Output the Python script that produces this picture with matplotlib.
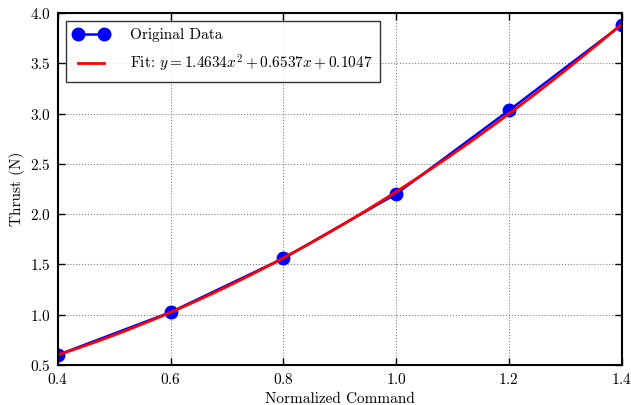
import numpy as np
import matplotlib
matplotlib.use('Agg')
import matplotlib.pyplot as plt

# measured thrust per normalized command
command = [0.4, 0.6, 0.8, 1.0, 1.2, 1.4]
thrust = [0.60, 1.025, 1.56, 2.20, 3.03, 3.88]

# quadratic fit coefficients (from the legend)
fit_coeffs = [1.4634, 0.6537, 0.1047]

plt.rcParams['font.family'] = 'serif'
plt.rcParams['font.serif'] = ['cmr10']
plt.rcParams['mathtext.fontset'] = 'cm'
plt.rcParams['axes.formatter.use_mathtext'] = True
plt.rcParams['axes.unicode_minus'] = False

fig = plt.figure(figsize=(6.31, 4.05), dpi=100)
ax = fig.add_axes([0.092, 0.099, 0.893, 0.869])

ax.plot(command, thrust, 'o-', color='blue', markersize=9, linewidth=1.8,
        markeredgecolor='blue', label='Original Data')

x_fit = np.linspace(command[0], command[-1], 200)
y_fit = np.polyval(fit_coeffs, x_fit)
ax.plot(x_fit, y_fit, '-', color='red', linewidth=2,
        label=r'Fit: $y = 1.4634x^2 + 0.6537x + 0.1047$')

ax.set_xlim(0.4, 1.4)
ax.set_ylim(0.5, 4.0)
ax.set_xticks(np.arange(0.4, 1.41, 0.2))
ax.set_yticks(np.arange(0.5, 4.01, 0.5))
ax.set_xlabel('Normalized Command', fontsize=11)
ax.set_ylabel('Thrust (N)', fontsize=11)
ax.tick_params(direction='in', top=True, right=True, labelsize=11,
               length=5, width=1, pad=5)
for s in ax.spines.values():
    s.set_linewidth(1.5)
ax.grid(True, linestyle=':', color='gray', linewidth=0.8)

leg = ax.legend(loc='upper left', numpoints=2, fancybox=False, fontsize=11,
                handlelength=2.3, borderpad=0.5, labelspacing=0.7,
                handletextpad=1.4, borderaxespad=0.5)
leg.get_frame().set_edgecolor('black')
leg.get_frame().set_linewidth(1.0)

fig.savefig('out.png', dpi=100)
